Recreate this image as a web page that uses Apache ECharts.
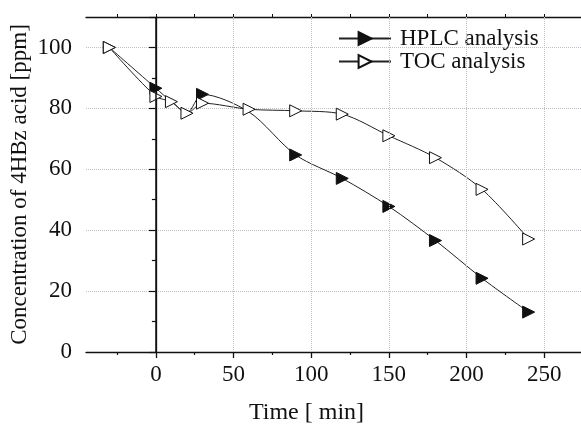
<!DOCTYPE html>
<html><head><meta charset="utf-8">
<script src="https://cdn.jsdelivr.net/npm/echarts@6/dist/echarts.min.js"></script>
<style>html,body{margin:0;padding:0;background:#fff}#c{width:581px;height:424px}</style>
</head><body><div id="c"></div>
<script>
const times = [-30, 0, 10, 20, 30, 60, 90, 120, 150, 180, 210, 240];
const hplc = [100, 86.6, 82.2, 78.6, 84.6, 78.8, 64.7, 57.0, 47.8, 36.6, 24.2, 13.1];
const toc  = [100, 83.9, 82.2, 78.4, 81.7, 79.7, 79.2, 78.1, 71.0, 63.8, 53.4, 37.1];
const hplcHiddenMarkerTimes = [10, 20, 60];
const xLabels = [0, 50, 100, 150, 200, 250];
const xMinorTicks = [-25, 25, 75, 125, 175, 225];
const xAllTicks = [-25, 0, 25, 50, 75, 100, 125, 150, 175, 200, 225, 250];
const xGrid = [50, 100, 150, 200, 250];

const font = 'Liberation Serif';
const ink = '#111';
const gridCol = '#bfbfc8';
const chart = echarts.init(document.getElementById('c'));
const pair = a => times.map((t, i) => [t, a[i]]);
const hplcData = times.map((t, i) => hplcHiddenMarkerTimes.indexOf(t) >= 0
  ? {value: [t, hplc[i]], symbol: 'none'} : [t, hplc[i]]);
chart.setOption({
  animation: false,
  backgroundColor: '#fff',
  grid: {left: 86, top: 17, right: -2, bottom: 72, outerBoundsMode: 'none', containLabel: false},
  legend: {
    left: 333, top: 22, orient: 'vertical', itemGap: 0,
    itemWidth: 52, itemHeight: 16,
    textStyle: {fontFamily: font, fontSize: 23, color: ink, padding: [0,0,0,4]},
    data: ['HPLC analysis', 'TOC analysis']
  },
  xAxis: [{
    type: 'value', min: -45, max: 275,
    name: 'Time [ min]', nameLocation: 'middle', nameGap: 49, nameMoveOverlap: false,
    nameTextStyle: {fontFamily: font, fontSize: 24, color: ink, padding: [0, 56, 0, 0]},
    axisLine: {show: true, onZero: false, lineStyle: {color: ink, width: 1.3}},
    axisTick: {show: true, customValues: xLabels, length: 6, lineStyle: {color: ink, width: 1.3}},
    axisLabel: {customValues: xLabels, fontFamily: font, fontSize: 23, color: ink, margin: 11},
    splitLine: {show: false}
  }, {
    type: 'value', min: -45, max: 275, position: 'bottom',
    axisLine: {show: false, onZero: false},
    axisTick: {show: true, customValues: xMinorTicks, length: 3, lineStyle: {color: ink, width: 1.2}},
    axisLabel: {show: false}, splitLine: {show: false}
  }, {
    type: 'value', min: -45, max: 275, position: 'top',
    axisLine: {show: true, onZero: false, lineStyle: {color: ink, width: 1.3}},
    axisTick: {show: true, customValues: xAllTicks, length: 3, lineStyle: {color: ink}},
    axisLabel: {show: false}, splitLine: {show: false}
  }],
  yAxis: {
    type: 'value', min: 0, max: 110, interval: 20,
    name: 'Concentration of 4HBz acid [ppm]', nameLocation: 'middle', nameGap: 55, nameMoveOverlap: false,
    nameTextStyle: {fontFamily: font, fontSize: 23, color: ink},
    axisLine: {show: true, lineStyle: {color: ink, width: 1.3}},
    axisTick: {show: true, length: 7, lineStyle: {color: ink, width: 1.2}},
    minorTick: {show: true, splitNumber: 2, length: 4, lineStyle: {color: ink, width: 1.2}},
    axisLabel: {fontFamily: font, fontSize: 23, color: ink, margin: 14, showMaxLabel: false},
    splitLine: {show: true, lineStyle: {color: gridCol, width: 1, type: 'dotted'}}
  },
  series: [{
    name: 'HPLC analysis', type: 'line', data: hplcData, smooth: 0.3,
    symbol: 'triangle', symbolRotate: -90, symbolSize: [12, 12],
    lineStyle: {color: '#222', width: 1},
    itemStyle: {color: ink, borderColor: ink, borderWidth: 1},
    z: 3,
    markLine: {
      silent: true, symbol: 'none', label: {show: false}, animation: false,
      lineStyle: {color: gridCol, width: 1, type: 'dotted'},
      data: xGrid.map(v => ({xAxis: v}))
    }
  }, {
    name: 'TOC analysis', type: 'line', data: pair(toc), smooth: 0.3,
    symbol: 'triangle', symbolRotate: -90, symbolSize: [12, 12],
    lineStyle: {color: '#222', width: 1},
    itemStyle: {color: '#fff', borderColor: ink, borderWidth: 1},
    z: 4,
    markLine: {
      silent: true, symbol: 'none', label: {show: false}, animation: false,
      lineStyle: {color: ink, width: 1.5, type: 'solid'},
      data: [{xAxis: 0}]
    }
  }]
});
</script></body></html>
